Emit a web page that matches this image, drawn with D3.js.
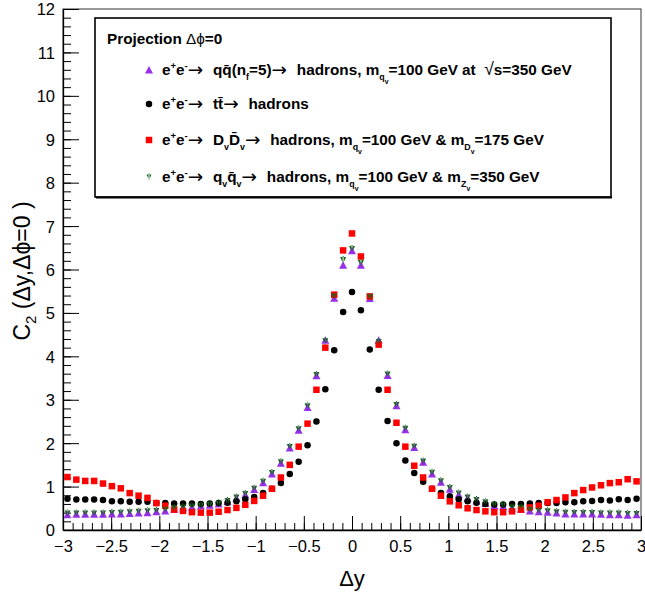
<!DOCTYPE html>
<html>
<head>
<meta charset="utf-8">
<script src="https://cdn.jsdelivr.net/npm/d3@7"></script>
<style>
  body { margin: 0; background: #fff; }
  svg { display: block; font-family: "Liberation Sans", Arial, Helvetica, sans-serif; }
</style>
</head>
<body>
<div id="chart"></div>
<script>
// Histogram binning of Delta y: 65 bins over [-3, 3]
var nBins = 65, xMin = -3, xMax = 3;
var binCenters = d3.range(nBins).map(function(i) { return xMin + (i + 0.5) * (xMax - xMin) / nBins; });

// e+e- -> q qbar (nf=5) -> hadrons
var qqbar = [0.35, 0.36, 0.36, 0.36, 0.36, 0.37, 0.37, 0.38, 0.39, 0.40, 0.42, 0.44, 0.48, 0.51, 0.53, 0.55, 0.57,
             0.60, 0.65, 0.73, 0.81, 0.93, 1.09, 1.29, 1.54, 1.89, 2.30, 2.82, 3.55, 4.37, 5.34, 6.10, 6.43,
             6.10, 5.33, 4.37, 3.56, 2.86, 2.31, 1.90, 1.56, 1.29, 1.10, 0.94, 0.81, 0.73, 0.67, 0.61, 0.56,
             0.54, 0.50, 0.48, 0.44, 0.42, 0.41, 0.39, 0.37, 0.37, 0.37, 0.37, 0.36, 0.35, 0.35, 0.34, 0.35];
// e+e- -> t tbar -> hadrons
var ttbar = [0.72, 0.70, 0.70, 0.70, 0.69, 0.66, 0.66, 0.65, 0.65, 0.65, 0.62, 0.62, 0.61, 0.61, 0.61, 0.60, 0.61,
             0.62, 0.63, 0.66, 0.71, 0.76, 0.85, 0.95, 1.08, 1.29, 1.57, 1.95, 2.50, 3.24, 4.14, 5.02, 5.48,
             5.06, 4.16, 3.23, 2.51, 2.00, 1.60, 1.31, 1.11, 0.95, 0.85, 0.78, 0.71, 0.66, 0.63, 0.60, 0.59,
             0.59, 0.60, 0.60, 0.61, 0.62, 0.62, 0.62, 0.64, 0.64, 0.66, 0.67, 0.69, 0.68, 0.71, 0.69, 0.72];
// e+e- -> Dv Dvbar -> hadrons
var dvdv = [1.22, 1.16, 1.13, 1.13, 1.07, 1.01, 0.96, 0.85, 0.79, 0.74, 0.62, 0.56, 0.47, 0.44, 0.41, 0.40, 0.40,
            0.42, 0.46, 0.51, 0.58, 0.67, 0.79, 0.95, 1.21, 1.50, 1.92, 2.45, 3.23, 4.20, 5.42, 6.44, 6.83,
            6.30, 5.38, 4.27, 3.23, 2.47, 1.92, 1.48, 1.21, 0.95, 0.79, 0.66, 0.57, 0.50, 0.46, 0.43, 0.41,
            0.41, 0.43, 0.47, 0.52, 0.56, 0.64, 0.69, 0.75, 0.85, 0.92, 0.98, 1.03, 1.08, 1.10, 1.17, 1.12];
// e+e- -> qv qvbar -> hadrons
var qvqv = [0.38, 0.38, 0.38, 0.38, 0.38, 0.39, 0.40, 0.41, 0.42, 0.43, 0.44, 0.46, 0.50, 0.52, 0.54, 0.56, 0.58,
            0.61, 0.67, 0.75, 0.83, 0.95, 1.11, 1.31, 1.56, 1.91, 2.32, 2.85, 3.57, 4.35, 5.38, 6.22, 6.47,
            6.15, 5.36, 4.33, 3.58, 2.88, 2.33, 1.92, 1.58, 1.32, 1.12, 0.97, 0.84, 0.75, 0.69, 0.64, 0.58,
            0.57, 0.52, 0.51, 0.46, 0.44, 0.43, 0.41, 0.40, 0.39, 0.39, 0.39, 0.38, 0.38, 0.38, 0.37, 0.37];

var xMajor = [-3, -2.5, -2, -1.5, -1, -0.5, 0, 0.5, 1, 1.5, 2, 2.5, 3];
var yMajor = [0, 1, 2, 3, 4, 5, 6, 7, 8, 9, 10, 11, 12];

// Size
var W = 645, H = 597;
var margin = {top: 9, right: 4, bottom: 67, left: 63},
    width = W - margin.left - margin.right,
    height = H - margin.top - margin.bottom;

var colors = {qq: "#9a2ff0", tt: "#000000", dd: "#ff0000", qv: "#16661a"};

var svg = d3.select("#chart").append("svg")
  .attr("width", W)
  .attr("height", H);

var g = svg.append("g")
  .attr("transform", "translate(" + margin.left + "," + margin.top + ")");

var x = d3.scaleLinear().domain([xMin, xMax]).range([0, width]);
var y = d3.scaleLinear().domain([0, 12]).range([height, 0]);

// Frame
g.append("rect")
  .attr("width", width).attr("height", height)
  .attr("fill", "none").attr("stroke", "#333").attr("stroke-width", 1);

// Axes
var fmt = d3.format("~g");
var xMinor = d3.range(-30, 31).map(function(d) { return d / 10; });
var yMinor = d3.range(0, 61).map(function(d) { return d / 5; });

g.append("g")
  .attr("transform", "translate(0," + height + ")")
  .call(d3.axisBottom(x).tickValues(xMinor).tickSize(-7).tickFormat(""))
  .call(function(a) { a.select(".domain").remove(); });
g.append("g")
  .attr("class", "xaxis")
  .attr("transform", "translate(0," + height + ")")
  .call(d3.axisBottom(x).tickValues(xMajor).tickSize(-14).tickPadding(10).tickFormat(fmt).tickSizeOuter(0));

g.append("g")
  .call(d3.axisLeft(y).tickValues(yMinor).tickSize(-8).tickFormat(""))
  .call(function(a) { a.select(".domain").remove(); });
g.append("g")
  .attr("class", "yaxis")
  .call(d3.axisLeft(y).tickValues(yMajor).tickSize(-16).tickPadding(8).tickFormat(fmt).tickSizeOuter(0));

g.selectAll(".tick line").attr("stroke", "#000");
g.selectAll(".domain").attr("stroke", "#000").attr("stroke-width", 1.3);
g.selectAll(".xaxis text, .yaxis text")
  .attr("fill", "#000")
  .style("font-size", "16.5px")
  .style("font-family", "'Liberation Sans', Arial, sans-serif");
g.selectAll(".yaxis text").attr("dy", "0.36em");

// Markers
function drawSeries(values, shape, color, size) {
  g.append("g").selectAll("path")
    .data(values.map(function(v, i) { return {x: binCenters[i], y: v}; }))
    .enter().append("path")
      .attr("transform", function(d) { return "translate(" + x(d.x) + "," + y(d.y) + ")"; })
      .attr("d", markerPath(shape, size))
      .attr("fill", color);
}

function markerPath(shape, s) {
  var h = s / 2;
  if (shape == "square") return "M" + (-h) + "," + (-h) + "h" + s + "v" + s + "h" + (-s) + "Z";
  if (shape == "circle") return d3.symbol().type(d3.symbolCircle).size(Math.PI * h * h)();
  if (shape == "up") return "M0," + (-h - 0.5) + "L" + (h + 0.5) + "," + (h) + "L" + (-h - 0.5) + "," + (h) + "Z";
  if (shape == "down") return "M0," + (h + 0.5) + "L" + (h) + "," + (-h) + "L" + (-h) + "," + (-h) + "Z"
                            + "M-0.5," + (-h - 1) + "h1v" + (s + 1.5) + "h-1Z";
}

drawSeries(qqbar, "up", colors.qq, 7);
drawSeries(ttbar, "circle", colors.tt, 6.5);
drawSeries(dvdv, "square", colors.dd, 6.5);
drawSeries(qvqv, "down", colors.qv, 6);

// Rich text with sub/superscripts
function richText(parent, tx, ty, parts, size, weight) {
  var t = parent.append("text")
    .attr("x", tx).attr("y", ty)
    .style("font-size", size + "px")
    .style("font-weight", weight)
    .style("white-space", "pre")
    .attr("fill", "#000");
  var cur = 0;
  parts.forEach(function(p) {
    var off = 0, fs = size, fw = weight, arrow = false;
    if (p[1] == "sup") { off = -0.42 * size; fs = 0.62 * size; }
    else if (p[1] == "sub") { off = 0.32 * size; fs = 0.58 * size; }
    else if (p[1] == "sub2") { off = 0.6 * size; fs = 0.45 * size; }
    else if (p[1] == "sym") { fw = "normal"; }
    else if (p[1] == "root") { fw = "normal"; fs = 1.15 * size; }
    else if (p[1] == "arrow") { fw = "normal"; arrow = true; fs = 1.2 * size; off = 0.5; }
    var ts = t.append("tspan")
      .attr("dy", off - cur)
      .style("font-size", fs + "px")
      .style("font-weight", fw)
      .text(p[0]);
    if (arrow) ts.style("font-family", "'DejaVu Sans', sans-serif").style("letter-spacing", "2px");
    cur = off;
  });
  return t;
}

// Legend
var leg = svg.append("g");
leg.append("rect")
  .attr("x", 95).attr("y", 18).attr("width", 516).attr("height", 179)
  .attr("fill", "#fff").attr("stroke", "#000").attr("stroke-width", 1.6);
leg.append("line").attr("x1", 96).attr("x2", 612).attr("y1", 197.5).attr("y2", 197.5)
  .attr("stroke", "#000").attr("stroke-width", 2);

var fsz = 15.3;
richText(leg, 107, 44, [["Projection "], ["\u0394\u03d5", "sym"], ["=0"]], fsz, "bold");

var ee = [["e"], ["+", "sup"], ["e"], ["-", "sup"], ["\u2192 ", "arrow"]];
var legendRows = [
  {shape: "up", color: colors.qq, size: 7, y: 70,
   parts: ee.concat([["qq\u0304(n"], ["f", "sub"], ["=5)"], ["\u2192 ", "arrow"], ["hadrons, m"], ["q", "sub"], ["v", "sub2"],
                     ["=100 GeV at  "], ["\u221a", "root"], ["s=350 GeV"]])},
  {shape: "circle", color: colors.tt, size: 6.5, y: 104,
   parts: ee.concat([["tt\u0304"], ["\u2192 ", "arrow"], ["hadrons"]])},
  {shape: "square", color: colors.dd, size: 6.5, y: 140,
   parts: ee.concat([["D"], ["v", "sub"], ["D\u0304"], ["v", "sub"], ["\u2192 ", "arrow"], ["hadrons, m"], ["q", "sub"], ["v", "sub2"],
                     ["=100 GeV & m"], ["D", "sub"], ["v", "sub2"], ["=175 GeV"]])},
  {shape: "down", color: colors.qv, size: 5, y: 177,
   parts: ee.concat([["q"], ["v", "sub"], ["q\u0304"], ["v", "sub"], ["\u2192 ", "arrow"], ["hadrons, m"], ["q", "sub"], ["v", "sub2"],
                     ["=100 GeV & m"], ["Z", "sub"], ["v", "sub2"], ["=350 GeV"]])}
];

legendRows.forEach(function(r) {
  leg.append("path")
    .attr("transform", "translate(149," + r.y + ")")
    .attr("d", markerPath(r.shape, r.size))
    .attr("fill", r.color);
  richText(leg, 162, r.y + 5, r.parts, fsz, "bold");
});

// Axis titles
svg.append("text")
  .attr("x", margin.left + x(0)).attr("y", 586)
  .attr("text-anchor", "middle")
  .style("font-size", "22px")
  .text("\u0394y");

var yt = svg.append("text")
  .attr("transform", "translate(30,271) rotate(-90)")
  .attr("text-anchor", "middle")
  .style("font-size", "23px");
yt.append("tspan").text("C");
yt.append("tspan").attr("dy", 6).style("font-size", "15px").text("2");
yt.append("tspan").attr("dy", -6).text(" (\u0394y,\u0394\u03d5=0 )");
</script>
</body>
</html>
